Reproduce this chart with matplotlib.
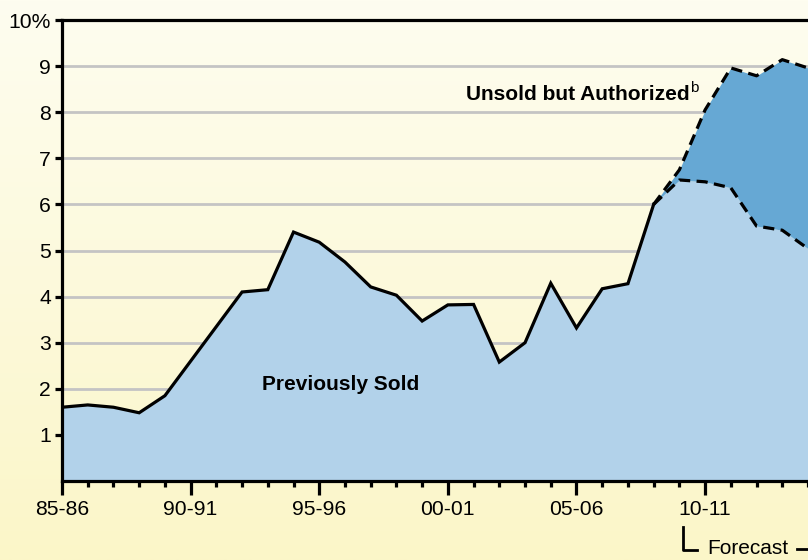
import numpy as np
import matplotlib
matplotlib.use("Agg")
import matplotlib.pyplot as plt
from matplotlib.colors import LinearSegmentedColormap

plt.rcParams['font.family'] = ['Liberation Sans', 'DejaVu Sans']

# ---- data ----
years = ["85-86", "86-87", "87-88", "88-89", "89-90", "90-91", "91-92", "92-93",
         "93-94", "94-95", "95-96", "96-97", "97-98", "98-99", "99-00", "00-01",
         "01-02", "02-03", "03-04", "04-05", "05-06", "06-07", "07-08", "08-09",
         "09-10", "10-11", "11-12", "12-13", "13-14", "14-15"]
previously_sold = [1.6, 1.65, 1.6, 1.48, 1.85, 2.6, 3.35, 4.1, 4.15, 5.4,
                   5.18, 4.75, 4.21, 4.03, 3.47, 3.82, 3.83, 2.58, 3.0, 4.29,
                   3.32, 4.17, 4.28, 6.0, 6.53, 6.49, 6.36, 5.53, 5.44, 5.04]
forecast_start = 23
total_with_unsold = [6.0, 6.75, 8.05, 8.96, 8.79, 9.14, 8.96]
ytick_labels = ["1", "2", "3", "4", "5", "6", "7", "8", "9", "10%"]
major_labels = ["85-86", "90-91", "95-96", "00-01", "05-06", "10-11"]

W, H = 808, 560
fig = plt.figure(figsize=(W / 100, H / 100), dpi=100)

# background gradient
bg = fig.add_axes([0, 0, 1, 1], zorder=-10)
cmap = LinearSegmentedColormap.from_list("bg", [(251/255, 246/255, 200/255), (254/255, 253/255, 240/255)])
grad = np.linspace(0, 1, 256).reshape(-1, 1)
bg.imshow(grad, aspect='auto', cmap=cmap, origin='lower', extent=[0, 1, 0, 1])
bg.set_axis_off()

ax = fig.add_axes([62 / W, (H - 481) / H, (W - 62) / W, (481 - 20) / H])
ax.patch.set_alpha(0)

x = np.arange(len(previously_sold))
sold = np.array(previously_sold)
xf = x[forecast_start:forecast_start + len(total_with_unsold)]
tot = np.array(total_with_unsold)

light = "#b2d2ea"
dark = "#66a8d4"

ax.fill_between(x, 0, sold, color=light, lw=0, zorder=2)
ax.fill_between(xf, sold[xf], tot, color=dark, lw=0, zorder=2)

lw = 2.3
ax.plot(x[:forecast_start + 1], sold[:forecast_start + 1], color='black', lw=lw, zorder=4,
        solid_joinstyle='miter')
ax.plot(xf, sold[xf], color='black', lw=lw, ls=(0, (3.5, 2)), zorder=4)
ax.plot(xf, tot, color='black', lw=lw, ls=(0, (3.5, 2)), zorder=4)

for yv in range(1, 10):
    ax.axhline(yv, color='#c4c4c4', lw=2, zorder=1)

ax.set_xlim(0, (W - 62) / 25.8)
ax.set_ylim(0, 10)

ax.spines['right'].set_visible(False)
for s in ['left', 'bottom', 'top']:
    ax.spines[s].set_linewidth(2.3)
    ax.spines[s].set_zorder(5)

fs = 15.2
ax.set_yticks(range(1, 11))
ax.set_yticklabels(ytick_labels, fontsize=fs)
ax.tick_params(axis='y', direction='out', length=5, width=2.3, pad=3)

major_pos = [years.index(l) for l in major_labels]
ax.set_xticks(major_pos)
ax.set_xticklabels(major_labels, fontsize=fs)
ax.set_xticks([i for i in x if i not in major_pos], minor=True)
ax.tick_params(axis='x', which='major', direction='out', length=10, width=2.3, pad=4)
ax.tick_params(axis='x', which='minor', direction='out', length=4.5, width=2.3)

ax.text(262 / W, (H - 385) / H, "Previously Sold", transform=fig.transFigure,
        fontsize=15, fontweight='bold', ha='left', va='center', zorder=6)
t_un = ax.text(466 / W, (H - 94) / H, "Unsold but Authorized", transform=fig.transFigure,
               fontsize=15, fontweight='bold', ha='left', va='center', zorder=6)
fig.canvas.draw()
bb = t_un.get_window_extent()
fig.text(bb.x1 / W + 0.5 / W, (H - 88) / H, "b", fontsize=11, ha='left', va='center')

# Forecast bracket
fig.lines.append(plt.Line2D([683 / W, 683 / W, 697 / W], [(H - 527) / H, (H - 550) / H, (H - 550) / H],
                            transform=fig.transFigure, color='black', lw=2))
fig.text(707 / W, (H - 549) / H, "Forecast", fontsize=15, ha='left', va='center')
fig.lines.append(plt.Line2D([797 / W, 1.0], [(H - 549) / H, (H - 549) / H],
                            transform=fig.transFigure, color='black', lw=2))

fig.savefig("out.png", dpi=100)
